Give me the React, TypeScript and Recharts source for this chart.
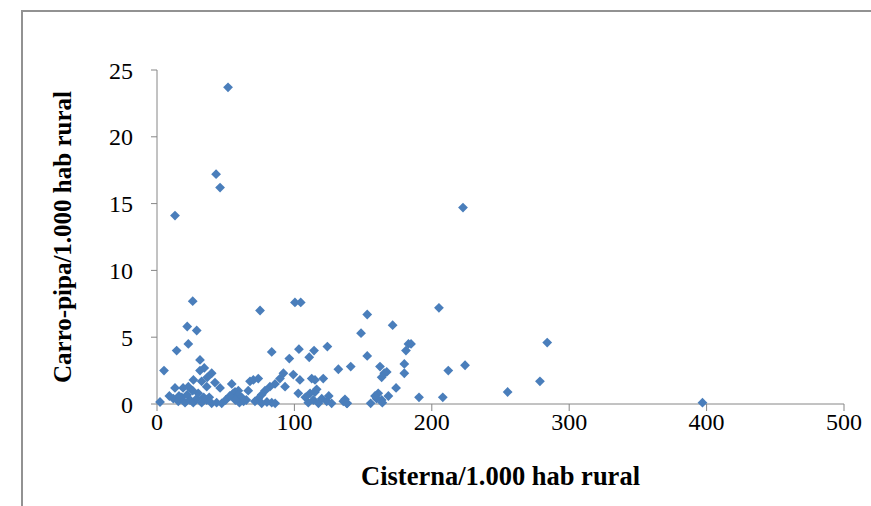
import React from 'react';
import { ScatterChart, Scatter, XAxis, YAxis } from 'recharts';

// Cisterna per 1.000 hab rural (x) and Carro-pipa per 1.000 hab rural (y)
const cisterna: number[] = [
  51.7, 43, 45.9, 13.1, 222.7,
  26, 75, 100.4, 104.6, 22, 28.9, 22.8, 14.3, 83.5, 103.3, 114.3, 124, 96.3, 110.8, 31.3, 5.1,
  153, 205.2, 171.5, 148.5, 284, 183, 184.9, 181.2, 153, 180, 141, 132, 162.3, 167.2, 165.4, 163.5,
  180, 212, 224.2, 174, 278.7, 255.2, 168.4, 190.7, 208, 161, 158.7, 159.9, 163.5, 136.8, 138.5,
  155.5, 164, 397,
  31.3, 34.4, 39.8, 36.6, 92, 99.2, 104, 112.6, 115, 121, 26.5, 32.5, 42.2, 54.4, 67.7, 70.1, 73.7,
  89.5, 85.9, 82.2, 78.6, 76.2, 73.7, 13.1, 19, 22.8, 36.2, 45.9, 56.8, 59.2, 66.4, 93.2, 102.8,
  111.4, 115, 116.2, 55.5, 59.2, 56.8, 61.6, 2.2,
  11.9, 15.5, 18, 20.4, 24, 26.4, 28.9, 32.5, 36.2, 39.8, 43.4, 47.1, 71.3, 76.2, 83.5, 110.1,
  113.8, 117.5, 119.9, 123.5, 127.1, 135.6, 138.1, 16, 22, 30, 38, 26, 50, 60, 80, 86, 65,
  9, 34, 53, 63, 57, 108, 125,
];

const carroPipa: number[] = [
  23.7, 17.2, 16.2, 14.1, 14.7,
  7.7, 7.0, 7.6, 7.6, 5.8, 5.5, 4.5, 4.0, 3.9, 4.1, 4.0, 4.3, 3.4, 3.5, 3.3, 2.5,
  6.7, 7.2, 5.9, 5.3, 4.6, 4.5, 4.5, 4.0, 3.6, 3.0, 2.8, 2.6, 2.8, 2.4, 2.3, 2.0,
  2.3, 2.5, 2.9, 1.2, 1.7, 0.9, 0.6, 0.5, 0.5, 0.8, 0.6, 0.4, 0.3, 0.35, 0.05,
  0.05, 0.1, 0.1,
  2.5, 2.7, 2.3, 2.0, 2.3, 2.2, 1.8, 1.9, 1.8, 1.9, 1.8, 1.7, 1.6, 1.5, 1.7, 1.8, 1.9,
  1.9, 1.5, 1.3, 1.0, 0.7, 0.4, 1.2, 1.2, 1.3, 1.3, 1.2, 0.9, 1.0, 1.0, 1.3, 0.8,
  0.8, 0.9, 1.1, 0.8, 0.7, 0.4, 0.5, 0.15,
  0.4, 0.2, 0.5, 0.1, 0.3, 0.1, 0.4, 0.1, 0.3, 0.05, 0.1, 0.05, 0.2, 0.05, 0.1, 0.1,
  0.3, 0.05, 0.4, 0.2, 0.05, 0.2, 0.05, 0.6, 0.7, 0.8, 0.5, 1.0, 0.3, 0.1, 0.15, 0.05, 0.3,
  0.6, 0.5, 0.6, 0.2, 0.3, 0.5, 0.6,
];

const xTicks = [0, 100, 200, 300, 400, 500];
const yTicks = [0, 5, 10, 15, 20, 25];

const data = cisterna.map((x, i) => ({ x, y: carroPipa[i] }));

const MARKER = '#4a7ebb';
const AXIS = '#868686';
const FONT = '"Liberation Serif", "Times New Roman", serif';

const Diamond = (props: any) => {
  const { cx, cy } = props;
  if (cx == null || cy == null) return null;
  const r = 4.9;
  return (
    <polygon
      points={`${cx},${cy - r} ${cx + r},${cy} ${cx},${cy + r} ${cx - r},${cy}`}
      fill={MARKER}
    />
  );
};

const XTitle = (props: any) => {
  const vb = props.viewBox || {};
  const x = vb.x + vb.width / 2;
  const y = vb.y + 72;
  return (
    <text x={x} y={y} textAnchor="middle" dominantBaseline="central"
      fontFamily={FONT} fontWeight="bold" fontSize={26.5} fill="#000">
      Cisterna/1.000 hab rural
    </text>
  );
};

const YTitle = (props: any) => {
  const vb = props.viewBox || {};
  const x = 62;
  const y = vb.y + vb.height / 2;
  return (
    <text x={x} y={y} textAnchor="middle" dominantBaseline="central"
      transform={`rotate(-90, ${x}, ${y})`}
      fontFamily={FONT} fontWeight="bold" fontSize={25} fill="#000">
      Carro-pipa/1.000 hab rural
    </text>
  );
};

export default function App() {
  return (
    <div style={{ position: 'absolute', left: 0, top: 0, width: 871, height: 506, background: '#fff', overflow: 'hidden' }}>
      <div style={{ position: 'absolute', left: 21, top: 10, width: 860, height: 510, borderTop: '2px solid #929292', borderLeft: '2px solid #929292' }} />
      <div style={{ position: 'absolute', left: 0, top: 0 }}>
        <ScatterChart width={871} height={506} margin={{ top: 70, right: 27, bottom: 42, left: 97 }}>
          <XAxis
            type="number"
            dataKey="x"
            domain={[0, 500]}
            ticks={xTicks}
            interval={0}
            height={60}
            axisLine={{ stroke: AXIS, strokeWidth: 1 }}
            tickLine={{ stroke: AXIS }}
            tickSize={7}
            tickMargin={2}
            tick={{ fill: '#000', fontFamily: FONT, fontSize: 24 }}
            label={<XTitle />}
          />
          <YAxis
            type="number"
            dataKey="y"
            domain={[0, 25]}
            ticks={yTicks}
            interval={0}
            width={60}
            axisLine={{ stroke: AXIS, strokeWidth: 1 }}
            tickLine={{ stroke: AXIS }}
            tickSize={6}
            tickMargin={18}
            tick={{ fill: '#000', fontFamily: FONT, fontSize: 24 }}
            label={<YTitle />}
          />
          <Scatter data={data} shape={<Diamond />} isAnimationActive={false} />
        </ScatterChart>
      </div>
    </div>
  );
}
